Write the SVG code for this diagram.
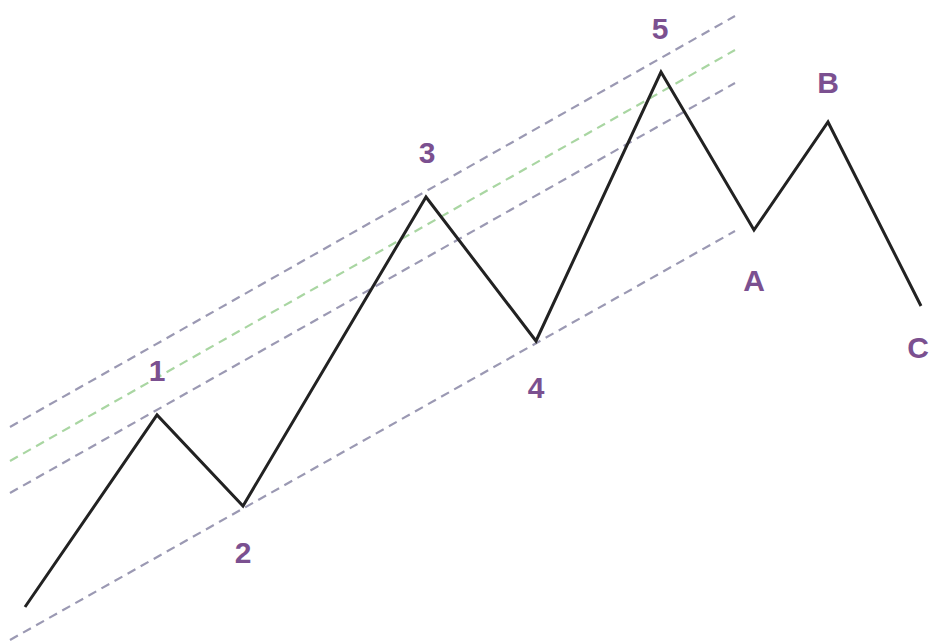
<svg xmlns="http://www.w3.org/2000/svg" width="935" height="644" viewBox="0 0 935 644">
<style>
.ch{fill:none;stroke:#9b99b3;stroke-width:2.2;stroke-dasharray:9 6}
.gr{fill:none;stroke:#a9d6a2;stroke-width:2.2;stroke-dasharray:9 6}
.wave{fill:none;stroke:#222;stroke-width:3;stroke-linejoin:miter}
.lbl{font-family:"Liberation Sans",Arial,sans-serif;font-weight:bold;font-size:30px;fill:#7b5090;text-anchor:middle;dominant-baseline:central}
</style>
<rect width="935" height="644" fill="#fff"/>
<g id="connectors">
<line class="ch" x1="10" y1="427" x2="735" y2="16"/>
<line class="gr" x1="10" y1="461" x2="735" y2="50"/>
<line class="ch" x1="10" y1="493" x2="735" y2="83"/>
<line class="ch" x1="10" y1="640" x2="735" y2="231"/>
<polyline class="wave" points="25,607 157,415 243,506 426,197 536,341 661,72 754,230 828,122 921,306"/>
</g>
<g id="n1"><text class="lbl" x="157" y="370">1</text></g>
<g id="n2"><text class="lbl" x="243" y="552">2</text></g>
<g id="n3"><text class="lbl" x="427" y="152">3</text></g>
<g id="n4"><text class="lbl" x="536" y="387">4</text></g>
<g id="n5"><text class="lbl" x="660" y="28">5</text></g>
<g id="nA"><text class="lbl" x="754" y="280">A</text></g>
<g id="nB"><text class="lbl" x="828" y="82">B</text></g>
<g id="nC"><text class="lbl" x="918" y="347">C</text></g>
</svg>
